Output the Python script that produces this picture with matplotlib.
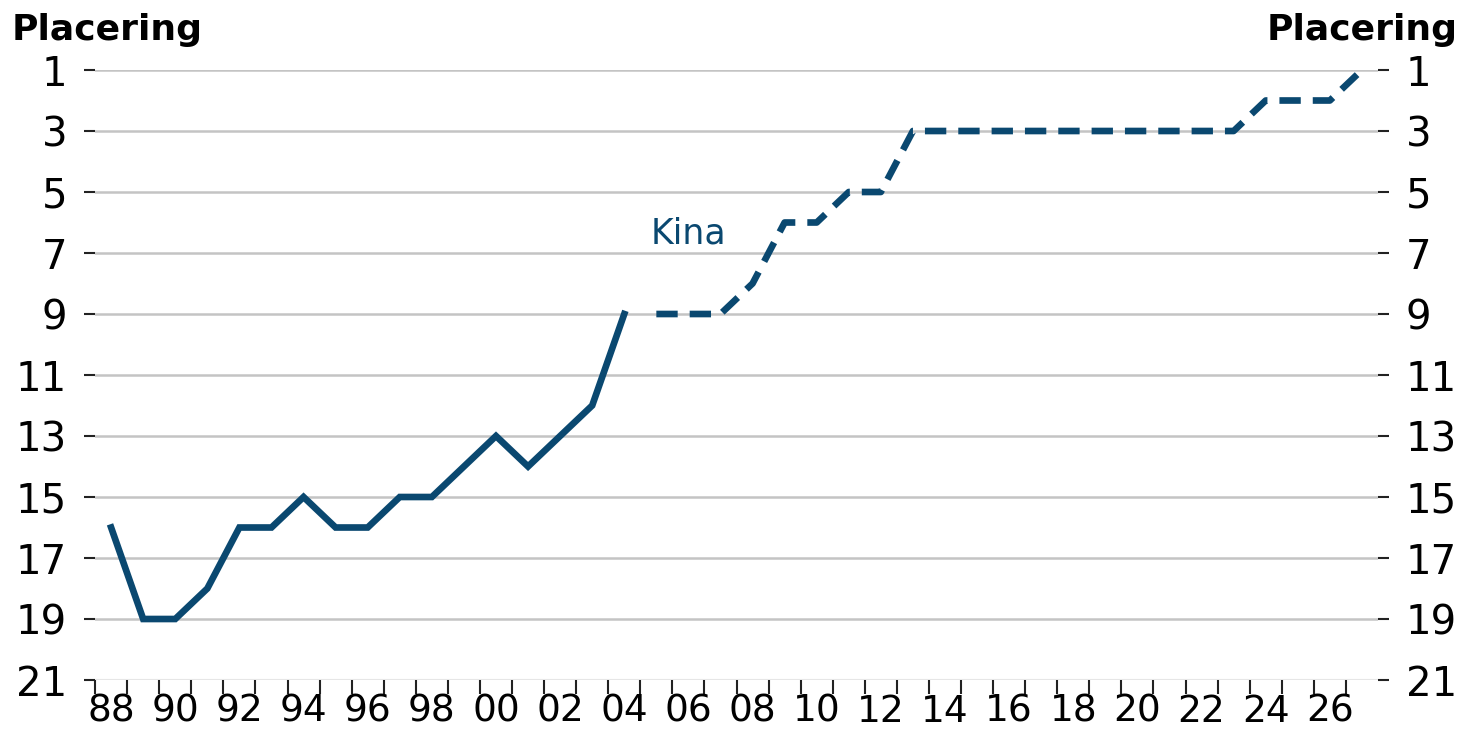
import numpy as np
import matplotlib
matplotlib.use('Agg')
import matplotlib.pyplot as plt

# placering per år (lägre = bättre)
years = list(range(1988, 2028))
solid_years = list(range(1988, 2005))
solid_vals = [16, 19, 19, 18, 16, 16, 15, 16, 16, 15, 15, 14, 13, 14, 13, 12, 9]
dash_years = list(range(2005, 2028))
dash_vals = [9, 9, 9, 8, 6, 6, 5, 5, 3, 3, 3, 3, 3, 3, 3, 3, 3, 3, 3, 2, 2, 2, 1]
yticks = [1, 3, 5, 7, 9, 11, 13, 15, 17, 19, 21]
series_name = "Kina"
axis_title = "Placering"

blue = "#0a4870"
grid_col = "#c4c4c4"

plt.rcParams['font.family'] = ['DejaVu Sans']

fig = plt.figure(figsize=(14.65, 7.33), dpi=100)
ax = fig.add_axes([0.0649, 0.0723, 0.8757, 0.8322])

xs = [y - 1988 for y in solid_years]
ax.plot(xs, solid_vals, color=blue, lw=4.8, solid_joinstyle='miter', clip_on=False, zorder=3)
xd = [y - 1988 for y in dash_years]
ax.plot(xd, dash_vals, color=blue, lw=4.8, dashes=(3.2, 1.8), clip_on=False, zorder=3)

ax.set_xlim(-0.5, len(years) - 0.5)
ax.set_ylim(21, 1)

for v in yticks[:-1]:
    ax.axhline(v, color=grid_col, lw=1.8, zorder=1)
ax.axhline(21, color="#e6e6e6", lw=1.5, zorder=1)

ax.set_yticks(yticks)
ax.set_yticklabels([str(v) for v in yticks])
ax.tick_params(axis='y', which='both', left=True, right=True, labelleft=True, labelright=True,
               length=8, width=1.5, color='#222222', pad=12, labelsize=29)

# x: tick marks at category edges, labels every other year
ax.set_xticks(np.arange(-0.5, len(years) - 1, 1.0))
ax.set_xticklabels([])
ax.tick_params(axis='x', which='major', length=10, width=1.5, color='#222222', direction='out')
lab_pos = [y - 1988 for y in years[::2]]
ax.set_xticks(lab_pos, minor=True)
ax.set_xticklabels([f"{y % 100:02d}" for y in years[::2]], minor=True)
ax.tick_params(axis='x', which='minor', length=0, pad=10, labelsize=27)

for s in ax.spines.values():
    s.set_visible(False)

ax.text(2006 - 1988, 6.35, series_name, color=blue, fontsize=25, ha='center', va='center')

fig.text(12 / 1465, 1 - 30 / 733, axis_title, fontsize=26, fontweight='bold', ha='left', va='center')
fig.text(1458 / 1465, 1 - 30 / 733, axis_title, fontsize=26, fontweight='bold', ha='right', va='center')

fig.savefig("out.png", dpi=100)
